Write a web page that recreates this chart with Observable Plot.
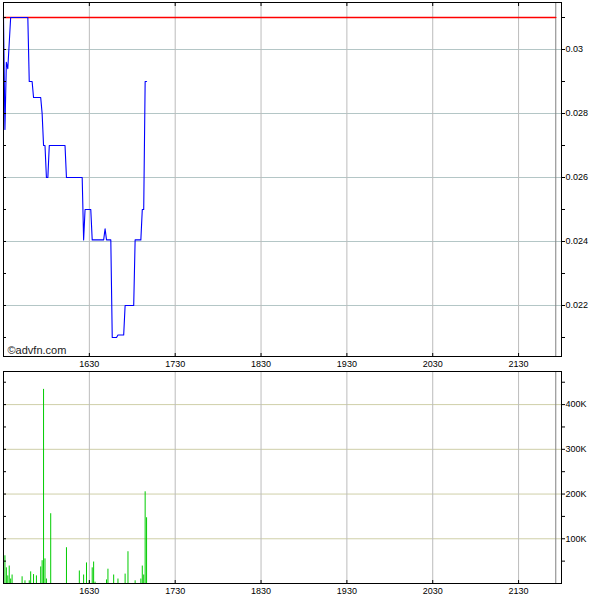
<!DOCTYPE html>
<html>
<head>
<meta charset="utf-8">
<script src="https://cdn.jsdelivr.net/npm/d3@7"></script>
<script src="https://cdn.jsdelivr.net/npm/@observablehq/plot@0.6"></script>
<style>
  html, body { margin: 0; padding: 0; background: #fff; }
  #wrap { position: relative; width: 600px; height: 600px; overflow: hidden; }
  #toppanel, #bottompanel { position: absolute; left: 0; }
  #toppanel { top: 0; }
  #bottompanel { top: 368px; }
  svg { display: block; }
</style>
</head>
<body>
<div id="wrap"><div id="toppanel"></div><div id="bottompanel"></div></div>
<script>
// ---- data ----
const xDomain = ["15:30", "22:00"];
const hourTicks = ["16:30", "17:30", "18:30", "19:30", "20:30", "21:30"];
const markerTime = "21:56";
const prevClose = 0.031;
const credit = "\u00A9advfn.com";

const priceTimes = ["15:30","15:31","15:32","15:33","15:35","15:47","15:48","15:50","15:51","15:56",
  "15:57","15:58","15:59","16:00","16:01","16:02","16:13","16:14","16:25","16:26",
  "16:27","16:31","16:32","16:40","16:41","16:42","16:45","16:46","16:49","16:50",
  "16:54","16:55","17:01","17:02","17:06","17:07","17:08","17:09","17:10"];
const priceValues = [0.031,0.0275,0.0296,0.0294,0.031,0.031,0.029,0.029,0.0285,0.0285,
  0.028,0.027,0.027,0.026,0.026,0.027,0.027,0.026,0.026,0.02405,
  0.025,0.025,0.02405,0.02405,0.0244,0.02405,0.02405,0.021,0.021,0.02108,
  0.02108,0.022,0.022,0.02405,0.02405,0.025,0.025,0.029,0.029];

const volTimes = ["15:31","15:32","15:33","15:34","15:35","15:36","15:43","15:45","15:48","15:49",
  "15:51","15:53","15:56","15:57","15:58","15:59","16:00","16:03","16:14","16:23",
  "16:26","16:28","16:30","16:32","16:33","16:34","16:42","16:43","16:47","16:50",
  "16:55","16:57","17:02","17:06","17:07","17:08","17:09","17:10"];
const volValues = [62000,35000,17000,39000,10000,19000,15000,6000,6000,26000,
  20000,17000,37000,51000,434000,55000,10000,156000,80000,28000,
  19000,46000,6000,35000,48000,3000,8000,32000,19000,10000,
  21000,71000,6000,10000,39000,19000,205000,147000];

const priceDomain = [0.020406, 0.031469];
const priceTicks = [0.021,0.022,0.023,0.024,0.025,0.026,0.027,0.028,0.029,0.030,0.031];
const priceLabelled = [0.022,0.024,0.026,0.028,0.030];
const volDomain = [0, 474000];
const volTicks = [50000,100000,150000,200000,250000,300000,350000,400000,450000];
const volLabelled = [100000,200000,300000,400000];

// ---- helpers ----
const toMin = s => { const [h, m] = s.split(":").map(Number); return h * 60 + m; };
const hhmm = m => String(Math.floor(m / 60)).padStart(2, "0") + String(m % 60).padStart(2, "0");
const price = priceTimes.map((t, i) => ({t: toMin(t), v: priceValues[i]}));
const vol = volTimes.map((t, i) => ({t: toMin(t), v: volValues[i]}));
const hours = hourTicks.map(toMin);
const xd = xDomain.map(toMin);
const marker = toMin(markerTime);
const refPts = [{t: xd[0], v: prevClose}, {t: marker, v: prevClose}];
const font = {fontFamily: "'Liberation Sans', Arial, sans-serif", fontSize: "9px", background: "transparent", color: "#000", overflow: "visible"};
const fmtPrice = d => String(+d.toFixed(3));
const fmtVol = d => (d / 1000) + "K";

const topChart = Plot.plot({
  width: 600, height: 370,
  marginTop: 2, marginBottom: 14, marginLeft: 3, marginRight: 39,
  style: font,
  x: {domain: xd, axis: null},
  y: {domain: priceDomain, axis: null},
  marks: [
    Plot.ruleY(priceLabelled, {stroke: "#b4c6c6", strokeWidth: 1}),
    Plot.ruleX(hours, {stroke: "#bcbcbc", strokeWidth: 1}),
    Plot.ruleX([marker], {stroke: "#808080", strokeWidth: 1}),
    Plot.line(refPts, {x: "t", y: "v", stroke: "#ff0000", strokeWidth: 1.4, strokeOpacity: 1}),
    Plot.line(price, {x: "t", y: "v", stroke: "#0000ff", strokeWidth: 1.1}),
    Plot.text([credit], {frameAnchor: "bottom-left", dx: 4, dy: -3, lineAnchor: "bottom", textAnchor: "start", fontSize: 11, fill: "#222"}),
    Plot.frame({stroke: "#000"}),
    Plot.axisY(priceTicks, {anchor: "right", label: null, tickSize: 3, tickPadding: 1, tickFormat: d => priceLabelled.some(p => Math.abs(p - d) < 1e-9) ? fmtPrice(d) : "", fontSize: 9, fill: "#000", stroke: "#000"}),
    Plot.axisY(priceTicks, {anchor: "left", label: null, tickSize: -3, tickFormat: () => "", stroke: "#000"}),
    Plot.axisX(hours, {anchor: "bottom", label: null, tickSize: 0, tickPadding: 4, tickFormat: hhmm, fontSize: 9, fill: "#000"}),
    Plot.axisX(hours, {anchor: "bottom", label: null, tickSize: -3, tickFormat: () => "", stroke: "#000"}),
    Plot.axisX(hours, {anchor: "top", label: null, tickSize: -3, tickFormat: () => "", stroke: "#000"})
  ]
});
document.getElementById("toppanel").appendChild(topChart);

const bottomChart = Plot.plot({
  width: 600, height: 232,
  marginTop: 3, marginBottom: 17, marginLeft: 3, marginRight: 39,
  style: font,
  x: {domain: xd, axis: null},
  y: {domain: volDomain, axis: null},
  marks: [
    Plot.ruleY(volLabelled, {stroke: "#cfcfa8", strokeWidth: 1}),
    Plot.ruleX(hours, {stroke: "#bcbcbc", strokeWidth: 1}),
    Plot.ruleX([marker], {stroke: "#808080", strokeWidth: 1}),
    Plot.ruleX(vol, {x: "t", y1: 0, y2: "v", stroke: "#00cc00", strokeWidth: 1}),
    Plot.frame({stroke: "#000"}),
    Plot.axisY(volTicks, {anchor: "right", label: null, tickSize: 3, tickPadding: 1, tickFormat: d => volLabelled.includes(d) ? fmtVol(d) : "", fontSize: 9, fill: "#000", stroke: "#000"}),
    Plot.axisY(volTicks, {anchor: "left", label: null, tickSize: -3, tickFormat: () => "", stroke: "#000"}),
    Plot.axisX(hours, {anchor: "bottom", label: null, tickSize: 0, tickPadding: 4, tickFormat: hhmm, fontSize: 9, fill: "#000"}),
    Plot.axisX(hours, {anchor: "bottom", label: null, tickSize: -3, tickFormat: () => "", stroke: "#000"})
  ]
});
document.getElementById("bottompanel").appendChild(bottomChart);
</script>
</body>
</html>
